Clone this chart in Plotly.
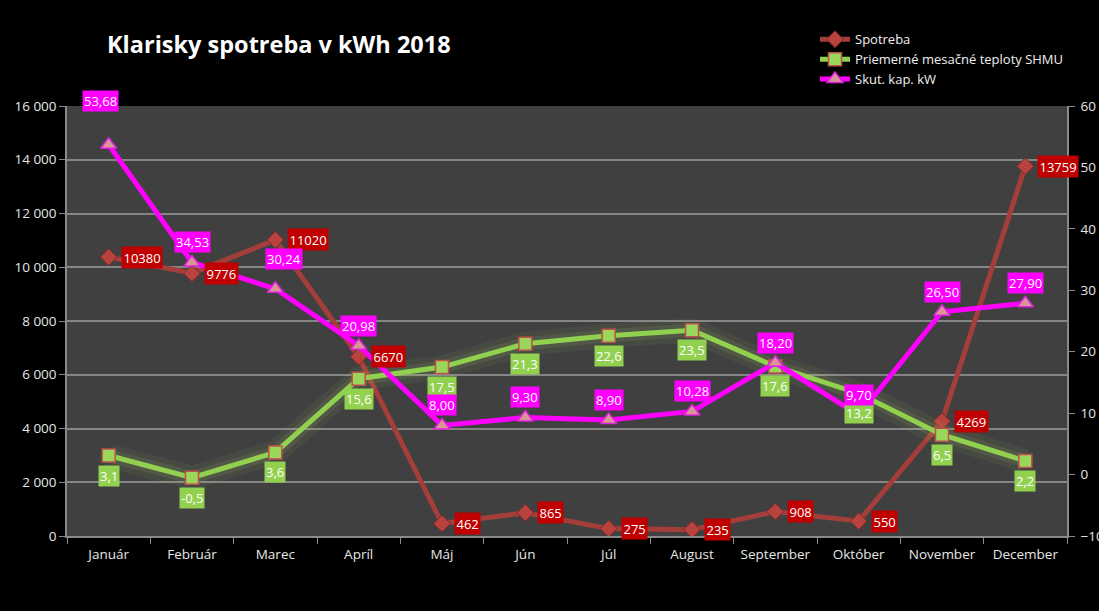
import plotly.graph_objects as go

months = ["Január", "Február", "Marec", "Apríl", "Máj", "Jún", "Júl",
          "August", "September", "Október", "November", "December"]
spotreba = [10380, 9776, 11020, 6670, 462, 865, 275, 235, 908, 550, 4269, 13759]
teploty = [3.1, -0.5, 3.6, 15.6, 17.5, 21.3, 22.6, 23.5, 17.6, 13.2, 6.5, 2.2]
skut_kap = [53.68, 34.53, 30.24, 20.98, 8.00, 9.30, 8.90, 10.28, 18.20, 9.70, 26.50, 27.90]

left_ticks = [0, 2000, 4000, 6000, 8000, 10000, 12000, 14000, 16000]
left_tick_text = ["0", "2 000", "4 000", "6 000", "8 000", "10 000", "12 000", "14 000", "16 000"]
right_ticks = [-10, 0, 10, 20, 30, 40, 50, 60]

# label nudges (style only): (xshift, yshift) for the kW labels
skut_nudge = {0: (-8, 33), 2: (9, 19)}

FONT = "Open Sans"
RED = "#a43e3b"
GREEN = "#92d050"
MAG = "#ff00ff"
LBL = 13

fig = go.Figure()

fig.add_trace(go.Scatter(
    x=months, y=spotreba, name="Spotreba", mode="lines+markers",
    line=dict(color=RED, width=5),
    marker=dict(symbol="diamond", size=13, color="#b8423e",
                line=dict(color="#7a2a28", width=1)),
    yaxis="y"))

# soft glow under temperature line
fig.add_trace(go.Scatter(
    x=months, y=teploty, mode="lines", showlegend=False, hoverinfo="skip",
    line=dict(color="rgba(180,230,110,0.06)", width=24), yaxis="y2"))
fig.add_trace(go.Scatter(
    x=months, y=teploty, mode="lines", showlegend=False, hoverinfo="skip",
    line=dict(color="rgba(180,230,110,0.10)", width=13), yaxis="y2"))

fig.add_trace(go.Scatter(
    x=months, y=teploty, name="Priemerné mesačné teploty SHMU", mode="lines+markers",
    line=dict(color=GREEN, width=5),
    marker=dict(symbol="square", size=13, color="#9ad65a",
                line=dict(color="#c0504d", width=1.5)),
    yaxis="y2"))

fig.add_trace(go.Scatter(
    x=months, y=skut_kap, name="Skut. kap. kW", mode="lines+markers",
    line=dict(color=MAG, width=5),
    marker=dict(symbol="triangle-up", size=14, color="#d99694",
                line=dict(color="#e020e0", width=1.5)),
    yaxis="y2"))

ann = []
for m, v in zip(months, spotreba):
    ann.append(dict(x=m, y=v, xref="x", yref="y", text=str(v), showarrow=False,
                    xanchor="left", yanchor="middle", xshift=12,
                    bgcolor="#c00000", borderpad=1.5,
                    font=dict(family=FONT, size=LBL, color="white")))
for m, v in zip(months, teploty):
    ann.append(dict(x=m, y=v, xref="x", yref="y2", text=f"{v:.1f}".replace(".", ","),
                    showarrow=False, xanchor="center", yanchor="top", yshift=-9,
                    bgcolor=GREEN, borderpad=1,
                    font=dict(family=FONT, size=LBL, color="white")))
for i, (m, v) in enumerate(zip(months, skut_kap)):
    dx, dy = skut_nudge.get(i, (0, 9))
    ann.append(dict(x=m, y=v, xref="x", yref="y2", text=f"{v:.2f}".replace(".", ","),
                    showarrow=False, xanchor="center", yanchor="bottom",
                    xshift=dx, yshift=dy,
                    bgcolor=MAG, borderpad=1,
                    font=dict(family=FONT, size=LBL, color="white")))

fig.update_layout(
    width=1099, height=611,
    margin=dict(l=67, r=32, t=106, b=75, autoexpand=False),
    paper_bgcolor="black", plot_bgcolor="#404040",
    font=dict(family=FONT, color="#e6e6e6", size=13.5),
    title=dict(text="<b>Klarisky spotreba v kWh 2018</b>", x=107 / 1099, xanchor="left",
               xref="container", y=1 - 45 / 611, yanchor="middle",
               font=dict(family=FONT, size=23.5, color="white")),
    showlegend=True,
    legend=dict(x=0.748, y=1.19, xanchor="left", yanchor="top",
                bgcolor="rgba(0,0,0,0)", font=dict(family=FONT, size=13, color="#f0f0f0"),
                itemwidth=30, tracegroupgap=0),
    xaxis=dict(type="category", categoryorder="array", categoryarray=months,
               showgrid=False, showline=True, linecolor="#8a8a8a", linewidth=1.5,
               ticks="outside", tickson="boundaries", ticklen=6, tickcolor="#8a8a8a",
               ticklabelstandoff=5, automargin=False,
               tickfont=dict(size=13.5, color="#e6e6e6"), range=[-0.5, 11.5]),
    yaxis=dict(range=[0, 16000], tickvals=left_ticks, ticktext=left_tick_text,
               showgrid=True, gridcolor="#858585", gridwidth=1.5,
               showline=True, linecolor="#8a8a8a", linewidth=1.5, automargin=False,
               ticks="outside", ticklen=6, tickcolor="#8a8a8a", zeroline=False,
               tickfont=dict(size=13.5, color="#e6e6e6")),
    yaxis2=dict(range=[-10, 60], tickvals=right_ticks, overlaying="y", side="right",
                showgrid=False, zeroline=False, showline=True, linecolor="#8a8a8a",
                linewidth=1.5, ticks="outside", ticklen=6, tickcolor="#8a8a8a",
                automargin=False,
                ticklabelstandoff=3, tickfont=dict(size=13.5, color="#e6e6e6")),
    annotations=ann,
)

fig.write_html("out.html", config={"displayModeBar": False},
               post_script="document.body.style.margin='0';document.body.style.overflow='hidden';document.body.style.background='black';")
